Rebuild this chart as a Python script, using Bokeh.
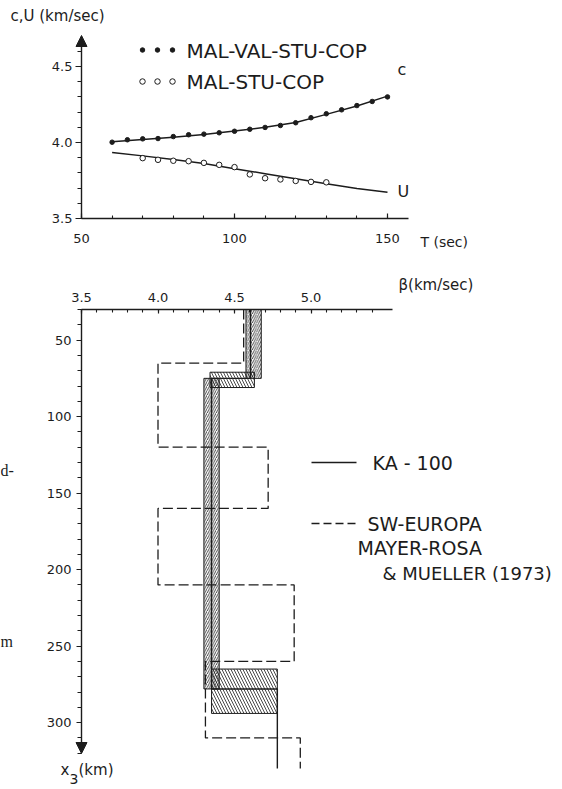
from bokeh.plotting import figure
from bokeh.layouts import column
from bokeh.models import Range1d, FixedTicker, Arrow, NormalHead, Label, PrintfTickFormatter
from bokeh.embed import file_html
from bokeh.resources import INLINE

# ---------------- data: phase / group velocity (top) ----------------
T_c = [60, 65, 70, 75, 80, 85, 90, 95, 100, 105, 110, 115, 120, 125, 130, 135, 140, 145, 150]
c_obs = [4.002, 4.018, 4.024, 4.026, 4.039, 4.051, 4.055, 4.064, 4.074, 4.087, 4.099,
         4.112, 4.130, 4.163, 4.189, 4.215, 4.243, 4.270, 4.300]
T_U = [70, 75, 80, 85, 90, 95, 100, 105, 110, 115, 120, 125, 130]
U_obs = [3.897, 3.886, 3.880, 3.877, 3.866, 3.853, 3.838, 3.790, 3.765, 3.757, 3.747, 3.741, 3.738]
T_fit = [60, 70, 80, 90, 100, 110, 120, 130, 140, 150]
c_fit = [4.005, 4.020, 4.035, 4.053, 4.075, 4.100, 4.132, 4.185, 4.240, 4.305]
U_fit = [3.935, 3.912, 3.888, 3.862, 3.828, 3.795, 3.762, 3.728, 3.698, 3.672]
T_ticks = [50, 100, 150]
v_ticks = [3.5, 4.0, 4.5]

# ---------------- data: shear velocity models (bottom) ----------------
ka_depth = [30, 75, 278, 330]
ka_beta = [4.605, 4.35, 4.78]
ka_band_top = [30, 75]
ka_band_bot = [75, 278]
ka_band_lo = [4.575, 4.30]
ka_band_hi = [4.675, 4.40]
ka_tr_top = [71, 265]
ka_tr_bot = [81, 294]
ka_tr_lo = [4.34, 4.35]
ka_tr_hi = [4.63, 4.78]
sw_depth = [30, 65, 120, 160, 210, 260, 310, 330]
sw_beta = [4.56, 4.00, 4.72, 4.00, 4.89, 4.31, 4.93]
beta_ticks = [3.5, 4.0, 4.5, 5.0]
depth_ticks = [50, 100, 150, 200, 250, 300]

INK = "#1c1c1c"
FONT = "DejaVu Sans"

W = 562
H1 = 260
H2 = 789 - H1
L = 81                      # px of the vertical axes

# ---------------- top figure ----------------
KX1, KY1 = 3.06, 152.0      # px per unit
Y0_1 = 218                   # px of the T axis


def tx(px):
    return 50 + (px - L) / KX1


def ty(py):
    return 3.5 + (Y0_1 - py) / KY1


p1 = figure(width=W, height=H1, output_backend="svg", toolbar_location=None,
            x_range=Range1d(tx(0), tx(W)), y_range=Range1d(ty(H1), ty(0)),
            min_border_left=0, min_border_right=0, min_border_top=0, min_border_bottom=0)
p1.outline_line_color = None
p1.grid.visible = False
p1.background_fill_color = None
p1.border_fill_color = "white"


def style_axis(ax, tin, tout, min_in, min_out, standoff):
    ax.axis_line_color = None
    ax.major_tick_in, ax.major_tick_out = tin, tout
    ax.minor_tick_in, ax.minor_tick_out = min_in, min_out
    ax.major_tick_line_color = INK
    ax.minor_tick_line_color = INK
    ax.major_tick_line_width = 1.2
    ax.minor_tick_line_width = 1.1
    ax.major_label_standoff = standoff
    ax.major_label_text_font = FONT
    ax.major_label_text_font_size = "13px"
    ax.major_label_text_color = INK


xa = p1.xaxis[0]
xa.fixed_location = 3.5
xa.ticker = FixedTicker(ticks=T_ticks, minor_ticks=list(range(50, 151, 10)))
style_axis(xa, 5, 0, 3, 0, 15)

ya = p1.yaxis[0]
ya.fixed_location = 50
ya.ticker = FixedTicker(ticks=v_ticks, minor_ticks=[3.5 + 0.1 * i for i in range(12)])
ya.formatter = PrintfTickFormatter(format="%.1f")
style_axis(ya, 0, 6, 0, 4, 3)

# axis lines
p1.add_layout(Arrow(end=None, x_start=50, y_start=3.5, x_end=tx(408), y_end=3.5,
                    line_color=INK, line_width=1.4))
p1.add_layout(Arrow(end=NormalHead(size=11, fill_color=INK, line_color=INK, line_width=1),
                    x_start=50, y_start=3.5, x_end=50, y_end=ty(35),
                    line_color=INK, line_width=1.4))

# curves and observations
p1.line(T_fit, c_fit, line_color=INK, line_width=1.5)
p1.line(T_fit, U_fit, line_color=INK, line_width=1.5)
p1.scatter(T_c, c_obs, size=4.5, fill_color=INK, line_color=INK)
p1.scatter(T_U, U_obs, size=5.5, fill_color="white", line_color=INK, line_width=1)

# legend markers
p1.scatter([tx(142), tx(157), tx(172)], [ty(49.5)] * 3, size=4.5, fill_color=INK, line_color=INK)
p1.scatter([tx(142), tx(157), tx(172)], [ty(81)] * 3, size=5.5, fill_color="white",
           line_color=INK, line_width=1)


def lab(p, x, y, text, size, align="left", font=FONT, baseline="middle"):
    p.add_layout(Label(x=x, y=y, text=text, text_font=font, text_font_size=size,
                       text_color=INK, text_align=align, text_baseline=baseline))


lab(p1, tx(186), ty(50), "MAL-VAL-STU-COP", "20px")
lab(p1, tx(186), ty(81), "MAL-STU-COP", "20px")
lab(p1, tx(10), ty(15), "c,U (km/sec)", "15px")
lab(p1, tx(397), ty(69), "c", "16px")
lab(p1, tx(397), ty(191), "U", "16px")
lab(p1, tx(420), ty(241), "T (sec)", "14px")

# ---------------- bottom figure ----------------
TOP2 = 309          # global px of the beta axis
KX2, KY2 = 153.0, 1.53


def bx(px):
    return 3.5 + (px - L) / KX2


def by(py):
    return 30 + (py - TOP2) / KY2


p2 = figure(width=W, height=H2, output_backend="svg", toolbar_location=None,
            x_range=Range1d(bx(0), bx(W)), y_range=Range1d(by(789), by(H1)),
            x_axis_location="above",
            min_border_left=0, min_border_right=0, min_border_top=0, min_border_bottom=0)
p2.outline_line_color = None
p2.grid.visible = False
p2.background_fill_color = None
p2.border_fill_color = "white"

xa2 = p2.xaxis[0]
xa2.fixed_location = 30
xa2.ticker = FixedTicker(ticks=beta_ticks, minor_ticks=[3.5 + 0.1 * i for i in range(20)])
xa2.formatter = PrintfTickFormatter(format="%.1f")
style_axis(xa2, 4, 0, 3, 0, 8)

ya2 = p2.yaxis[0]
ya2.fixed_location = 3.5
ya2.ticker = FixedTicker(ticks=depth_ticks, minor_ticks=list(range(30, 321, 10)))
style_axis(ya2, 0, 5, 0, 4, 5)

p2.add_layout(Arrow(end=None, x_start=3.5, y_start=30, x_end=bx(392), y_end=30,
                    line_color=INK, line_width=1.4))
p2.add_layout(Arrow(end=NormalHead(size=11, fill_color=INK, line_color=INK, line_width=1),
                    x_start=3.5, y_start=30, x_end=3.5, y_end=by(753),
                    line_color=INK, line_width=1.4))

# hatched uncertainty boxes of KA-100
p2.quad(left=ka_band_lo, right=ka_band_hi, top=ka_band_top, bottom=ka_band_bot,
        fill_color=None, line_color=INK, line_width=1,
        hatch_pattern="/", hatch_color=INK, hatch_scale=4.5, hatch_weight=0.8)
p2.quad(left=ka_tr_lo, right=ka_tr_hi, top=ka_tr_top, bottom=ka_tr_bot,
        fill_color=None, line_color=INK, line_width=1,
        hatch_pattern="\\", hatch_color=INK, hatch_scale=6, hatch_weight=0.8)


def steps(depth, beta):
    xs, ys = [], []
    for i, b in enumerate(beta):
        xs += [b, b]
        ys += [depth[i], depth[i + 1]]
    return xs, ys


kx, ky = steps(ka_depth, ka_beta)
p2.line(kx, ky, line_color=INK, line_width=1.4)
sx, sy = steps(sw_depth, sw_beta)
p2.line(sx, sy, line_color=INK, line_width=1.3, line_dash="10 4")

# legend (bottom)
p2.line([bx(311), bx(356)], [by(462)] * 2, line_color=INK, line_width=1.3)
p2.line([bx(311), bx(356)], [by(523)] * 2, line_color=INK, line_width=1.3, line_dash="8 4")
lab(p2, bx(372), by(462), "KA - 100", "19px")
lab(p2, bx(367), by(523), "SW-EUROPA", "19px")
lab(p2, bx(357), by(547), "MAYER-ROSA", "19px")
lab(p2, bx(382), by(573), "& MUELLER  (1973)", "18px")
lab(p2, bx(398), by(284), "\u03b2(km/sec)", "15px")
lab(p2, bx(60), by(769), "x", "15px")
lab(p2, bx(69), by(778), "3", "14px")
lab(p2, bx(78), by(769), "(km)", "15px")
lab(p2, bx(0), by(470), "d-", "16px", font="Liberation Serif")
lab(p2, bx(0), by(641), "m", "16px", font="Liberation Serif")

layout = column(p1, p2, spacing=0)
open("out.html", "w").write(file_html(layout, INLINE))
